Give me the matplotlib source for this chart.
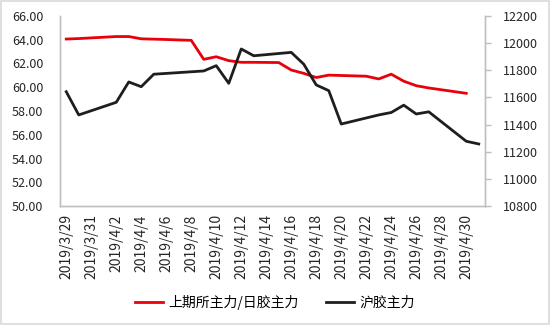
import matplotlib
matplotlib.use("Agg")
import matplotlib.pyplot as plt
from matplotlib.patches import Rectangle
from matplotlib.ticker import FormatStrFormatter
import datetime as dt

plt.rcParams['font.family'] = ['Noto Sans CJK SC', 'DejaVu Sans']

# ---- data ----
start = dt.date(2019, 3, 29)
label_dates = [start + dt.timedelta(days=i) for i in range(0, 33, 2)]
tick_labels = [f"{d.year}/{d.month}/{d.day}" for d in label_dates]

# day offsets from 2019/3/29 and values
red_days = [0, 1, 4, 5, 6, 7, 8, 10, 11, 12, 13, 14, 15, 17, 18, 19, 20, 21, 22, 24, 25, 26, 27, 28, 29, 32]
red_vals = [64.06, 64.10, 64.27, 64.27, 64.08, 64.05, 64.02, 63.95, 62.35, 62.57, 62.24, 62.10, 62.10, 62.08,
            61.45, 61.17, 60.82, 61.02, 60.99, 60.93, 60.70, 61.10, 60.51, 60.13, 59.94, 59.49]

black_days = [0, 1, 4, 5, 6, 7, 11, 12, 13, 14, 15, 18, 19, 20, 21, 22, 25, 26, 27, 28, 29, 32, 33]
black_vals = [11642, 11471, 11564, 11714, 11679, 11771, 11795, 11834, 11704, 11957, 11907, 11932, 11845,
              11692, 11650, 11404, 11471, 11489, 11543, 11478, 11494, 11277, 11257]

red_name = "上期所主力/日胶主力"
black_name = "沪胶主力"

# ---- figure ----
fig = plt.figure(figsize=(5.5, 3.25), dpi=100)
ax = fig.add_axes([60/550, 1-206/325, 425/550, 190/325])
ax2 = ax.twinx()

l1, = ax.plot(red_days, red_vals, color='#e8000b', lw=2.0, solid_joinstyle='round', label=red_name)
l2, = ax2.plot(black_days, black_vals, color='#1e1e1e', lw=2.0, solid_joinstyle='round', label=black_name)

ax.set_xlim(-0.5, 33.5)
ax.set_ylim(50, 66)
ax.set_yticks([50 + 2*i for i in range(9)])
ax.yaxis.set_major_formatter(FormatStrFormatter('%.2f'))
ax2.set_ylim(10800, 12200)
ax2.set_yticks([10800 + 200*i for i in range(8)])

ax.set_xticks(list(range(0, 33, 2)))
ax.set_xticklabels(tick_labels, rotation=90)
for lab in ax.get_xticklabels():
    lab.set_x(lab.get_position()[0])

gray = '#bfbfbf'
for a in (ax, ax2):
    a.spines['top'].set_visible(False)
    for s in ('left', 'right', 'bottom'):
        a.spines[s].set_color(gray)
        a.spines[s].set_linewidth(1.0)

ax.tick_params(axis='y', length=0, pad=12, labelsize=9, colors='#262626')
ax.tick_params(axis='x', length=0, pad=6, labelsize=10, colors='#262626')
ax2.tick_params(axis='y', length=4, width=1, color=gray, pad=9, labelsize=9, labelcolor='#262626')

fig.legend(handles=[l1, l2], loc='center', bbox_to_anchor=(0.5, 1-302/325), ncol=2,
           frameon=False, fontsize=10, handlelength=2.0, columnspacing=2.0, handletextpad=0.4)

fig.patches.append(Rectangle((0.001, 0.002), 0.997, 0.995, transform=fig.transFigure,
                             fill=False, edgecolor='#d9d9d9', lw=1.2))

fig.savefig('out.png', dpi=100)
